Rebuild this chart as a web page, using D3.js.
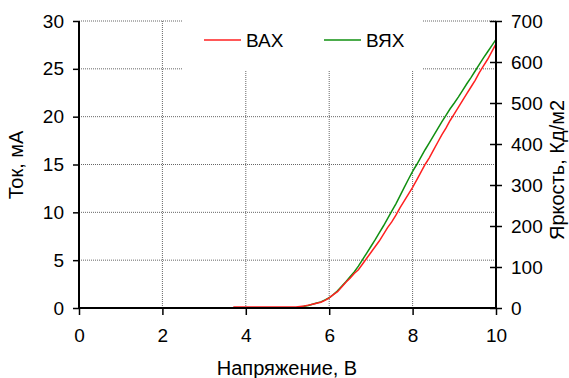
<!DOCTYPE html>
<html><head><meta charset="utf-8">
<script src="https://cdn.jsdelivr.net/npm/d3@7"></script>
<style>
body{margin:0;background:#fff;}
svg text{font-family:"Liberation Sans",Arial,sans-serif;fill:#000;}
</style></head>
<body><svg id="c" width="569" height="378"></svg>
<script>
// Data
const vahVoltage = [3.7,3.8,3.9,4.0,4.1,4.2,4.3,4.4,4.5,4.6,4.7,4.8,4.9,5.0,5.1,5.2,5.3,5.4,5.5,5.6,5.7,5.8,5.9,6.0,6.1,6.2,6.3,6.4,6.5,6.6,6.7,6.8,6.9,7.0,7.1,7.2,7.3,7.4,7.5,7.6,7.7,7.8,7.9,8.0,8.1,8.2,8.3,8.4,8.5,8.6,8.7,8.8,8.9,9.0,9.1,9.2,9.3,9.4,9.5,9.6,9.7,9.8,9.9,10.0];
const vahCurrent = [0.1,0.1,0.1,0.1,0.1,0.1,0.1,0.1,0.1,0.1,0.1,0.1,0.1,0.1,0.1,0.1,0.15,0.2,0.3,0.4,0.5,0.6,0.8,1.05,1.4,1.7,2.2,2.7,3.1,3.6,4.0,4.6,5.2,5.8,6.4,7.0,7.7,8.4,9.0,9.7,10.5,11.2,11.9,12.6,13.4,14.2,15.0,15.7,16.5,17.3,18.1,18.8,19.6,20.3,21.0,21.7,22.4,23.1,23.8,24.6,25.3,26.0,26.8,27.6];
const vyahVoltage = [5.3,5.4,5.5,5.6,5.7,5.8,5.9,6.0,6.1,6.2,6.3,6.4,6.5,6.6,6.7,6.8,6.9,7.0,7.1,7.2,7.3,7.4,7.5,7.6,7.7,7.8,7.9,8.0,8.1,8.2,8.3,8.4,8.5,8.6,8.7,8.8,8.9,9.0,9.1,9.2,9.3,9.4,9.5,9.6,9.7,9.8,9.9,10.0];
const vyahBrightness = [2,4,6,9,12,15,20,25,33,42,53,64,76,88,102,118,134,150,166,183,200,218,236,254,274,294,314,333,350,368,386,403,420,437,454,470,486,500,515,531,547,562,578,594,610,625,640,655];
const xTicks = [0,2,4,6,8,10];
const leftTicks = [0,5,10,15,20,25,30];
const rightTicks = [0,100,200,300,400,500,600,700];
const seriesNames = ["ВАХ","ВЯХ"];
const seriesColors = ["#ff2020","#119011"];
const labels = {x:"Напряжение, В", yl:"Ток, мА", yr:"Яркость, Кд/м2"};

const svg = d3.select("#c");
const L=79, R=496, T=21, B=308;
const x = d3.scaleLinear().domain([0,10]).range([L,R]);
const yl = d3.scaleLinear().domain([0,30]).range([B,T]);
const yr = d3.scaleLinear().domain([0,700]).range([B,T]);
const fs = 19, ft = 20;

// grid
const g = svg.append("g");
g.selectAll(".hg").data(leftTicks.filter(d=>d>0)).join("line")
 .attr("x1",L).attr("x2",R).attr("y1",d=>yl(d)).attr("y2",d=>yl(d))
 .attr("stroke","#666").attr("stroke-width",1).attr("stroke-dasharray","1,1");
g.selectAll(".vg").data(xTicks.filter(d=>d>0&&d<10)).join("line")
 .attr("y1",T).attr("y2",B).attr("x1",d=>x(d)).attr("x2",d=>x(d))
 .attr("stroke","#666").attr("stroke-width",1).attr("stroke-dasharray","1,1");

// legend background
svg.append("rect").attr("x",183).attr("y",18).attr("width",239).attr("height",53).attr("fill","#fff");

// lines
const lineL = d3.line().x(d=>x(d[0])).y(d=>yl(d[1]));
const lineR = d3.line().x(d=>x(d[0])).y(d=>yr(d[1]));
svg.append("path").datum(d3.zip(vyahVoltage,vyahBrightness)).attr("d",lineR)
 .attr("fill","none").attr("stroke",seriesColors[1]).attr("stroke-width",1.5);
svg.append("path").datum(d3.zip(vahVoltage,vahCurrent)).attr("d",lineL)
 .attr("fill","none").attr("stroke",seriesColors[0]).attr("stroke-width",1.5);

// axes
const axL = svg.append("g").attr("transform",`translate(${L},0)`)
 .call(d3.axisLeft(yl).tickValues(leftTicks).tickSize(6).tickPadding(9));
const axB = svg.append("g").attr("transform",`translate(0,${B})`)
 .call(d3.axisBottom(x).tickValues(xTicks).tickSize(7).tickPadding(14));
const axR = svg.append("g").attr("transform",`translate(${R},0)`)
 .call(d3.axisRight(yr).tickValues(rightTicks).tickSize(6).tickPadding(9));
axR.selectAll(".tick line").attr("x1",-6);
[axL,axB,axR].forEach(a=>{
  a.select(".domain").attr("stroke","#000").attr("stroke-width",2);
  a.selectAll(".tick line").attr("stroke","#000").attr("stroke-width",1.5);
  a.selectAll("text").attr("font-size",fs).attr("font-family","Liberation Sans, Arial, sans-serif").attr("fill","#000");
});
axL.select(".domain").attr("d",`M0,${B}V${T}`);
axR.select(".domain").attr("d",`M0,${B}V${T}`);
axB.select(".domain").attr("d",`M${L},0H${R}`);

// titles
svg.append("text").attr("x",287).attr("y",375).attr("text-anchor","middle").attr("font-size",ft).text(labels.x);
svg.append("text").attr("transform","translate(23,165) rotate(-90)").attr("text-anchor","middle").attr("font-size",ft).text(labels.yl);
svg.append("text").attr("transform","translate(564,170) rotate(-90)").attr("text-anchor","middle").attr("font-size",ft).text(labels.yr);

// legend
const lg = svg.append("g");
const lx = [204,324];
seriesNames.forEach((n,i)=>{
  lg.append("line").attr("x1",lx[i]).attr("x2",lx[i]+37).attr("y1",40).attr("y2",40)
    .attr("stroke",seriesColors[i]).attr("stroke-width",1.5);
  lg.append("text").attr("x",lx[i]+42).attr("y",40).attr("dy","0.36em").attr("font-size",fs).text(n);
});
</script></body></html>
